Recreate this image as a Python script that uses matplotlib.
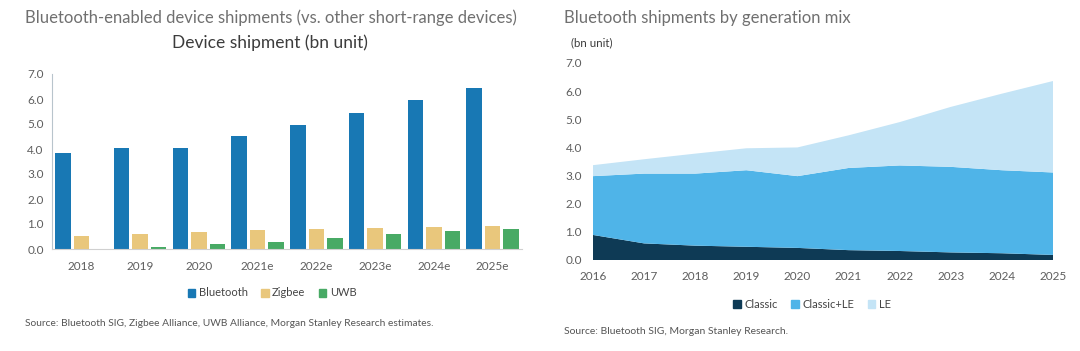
import matplotlib
matplotlib.use("Agg")
import matplotlib.pyplot as plt
from matplotlib.patches import Patch
import numpy as np

# left chart: device shipments (bn unit)
years_bar = ["2018", "2019", "2020", "2021e", "2022e", "2023e", "2024e", "2025e"]
bluetooth = [3.83, 4.03, 4.03, 4.54, 4.94, 5.43, 5.95, 6.46]
zigbee = [0.51, 0.60, 0.68, 0.77, 0.80, 0.84, 0.88, 0.91]
uwb = [0.0, 0.08, 0.21, 0.29, 0.43, 0.61, 0.72, 0.81]

# right chart: generation mix (bn unit), stacked
years_area = [2016, 2017, 2018, 2019, 2020, 2021, 2022, 2023, 2024, 2025]
classic = [0.89, 0.59, 0.51, 0.47, 0.43, 0.35, 0.32, 0.27, 0.24, 0.18]
classic_le_top = [2.98, 3.07, 3.07, 3.19, 2.98, 3.27, 3.36, 3.31, 3.19, 3.11]
total_top = [3.37, 3.58, 3.78, 3.97, 4.00, 4.43, 4.90, 5.44, 5.91, 6.36]

classic_le = [t - c for t, c in zip(classic_le_top, classic)]
le = [t - m for t, m in zip(total_top, classic_le_top)]

C_BT = "#1878b4"
C_ZB = "#e9c77c"
C_UWB = "#48aa65"
C_CLASSIC = "#0e3a55"
C_CLE = "#4fb4e8"
C_LE = "#c4e4f6"
GREY_TITLE = "#707070"
GREY_TICK = "#5e5e5e"

plt.rcParams["font.family"] = ["Lato", "DejaVu Sans"]

W, H = 1080, 351
fig = plt.figure(figsize=(W / 100, H / 100), dpi=100)


def box(x0, y0, x1, y1):
    # pixel box (top-left origin) -> figure fraction rect
    return [x0 / W, 1 - y1 / H, (x1 - x0) / W, (y1 - y0) / H]


# ---------------- left panel ----------------
ax1 = fig.add_axes(box(52, 74, 522, 249))
x = np.arange(len(years_bar))
w = 0.265
ax1.bar(x - 0.316, bluetooth, w, color=C_BT, label="Bluetooth")
ax1.bar(x, zigbee, w, color=C_ZB, label="Zigbee")
ax1.bar(x + 0.316, uwb, w, color=C_UWB, label="UWB")
ax1.set_xlim(-0.5, 7.5)
ax1.set_ylim(0, 7)
ax1.set_yticks(np.arange(0, 7.01, 1.0))
ax1.set_yticklabels([f"{v:.1f}" for v in np.arange(0, 7.01, 1.0)])
ax1.set_xticks(x)
ax1.set_xticklabels(years_bar)
for s in ["top", "right"]:
    ax1.spines[s].set_visible(False)
ax1.spines["left"].set_color("#b8c4cc")
ax1.spines["bottom"].set_color("#d0d0d0")
ax1.tick_params(length=0, labelsize=8.5, colors=GREY_TICK)
ax1.tick_params(axis="y", pad=6)
ax1.tick_params(axis="x", pad=9)

h1 = [Patch(color=C_BT), Patch(color=C_ZB), Patch(color=C_UWB)]
fig.legend(h1, ["Bluetooth", "Zigbee", "UWB"], loc="center",
           bbox_to_anchor=(272 / W, 1 - 293 / H), ncol=3, frameon=False,
           fontsize=8, handlelength=0.7, handleheight=0.7, handletextpad=0.3,
           columnspacing=1.2, labelcolor="#444444")

fig.text(25 / W, 1 - 18 / H,
         "Bluetooth-enabled device shipments (vs. other short-range devices)",
         fontsize=12, color=GREY_TITLE, va="center", ha="left")
fig.text(270 / W, 1 - 43 / H, "Device shipment (bn unit)", fontsize=12.5,
         color="#3c3c3c", va="center", ha="center")
fig.text(25 / W, 1 - 323 / H,
         "Source: Bluetooth SIG, Zigbee Alliance, UWB Alliance, Morgan Stanley Research estimates.",
         fontsize=7.4, color="#555555", va="center", ha="left")

# ---------------- right panel ----------------
ax2 = fig.add_axes(box(593, 63, 1053, 260))
ax2.stackplot(years_area, classic, classic_le, le,
              colors=[C_CLASSIC, C_CLE, C_LE], linewidth=0)
ax2.set_xlim(2016, 2025)
ax2.set_ylim(0, 7)
ax2.set_yticks(np.arange(0, 7.01, 1.0))
ax2.set_yticklabels([f"{v:.1f}" for v in np.arange(0, 7.01, 1.0)])
ax2.set_xticks(years_area)
for s in ax2.spines.values():
    s.set_visible(False)
ax2.tick_params(length=0, labelsize=8.5, colors=GREY_TICK)
ax2.tick_params(axis="y", pad=8)
ax2.tick_params(axis="x", pad=8)

h2 = [Patch(color=C_CLASSIC), Patch(color=C_CLE), Patch(color=C_LE)]
fig.legend(h2, ["Classic", "Classic+LE", "LE"], loc="center",
           bbox_to_anchor=(812 / W, 1 - 304 / H), ncol=3, frameon=False,
           fontsize=8, handlelength=0.7, handleheight=0.7, handletextpad=0.3,
           columnspacing=1.2, labelcolor="#444444")

fig.text(564 / W, 1 - 18 / H, "Bluetooth shipments by generation mix",
         fontsize=12, color=GREY_TITLE, va="center", ha="left")
fig.text(571 / W, 1 - 43 / H, "(bn unit)", fontsize=8.3, color="#3c3c3c",
         va="center", ha="left")
fig.text(564 / W, 1 - 332 / H, "Source: Bluetooth SIG, Morgan Stanley Research.",
         fontsize=7.5, color="#555555", va="center", ha="left")

fig.savefig("out.png", dpi=100, facecolor="white")
